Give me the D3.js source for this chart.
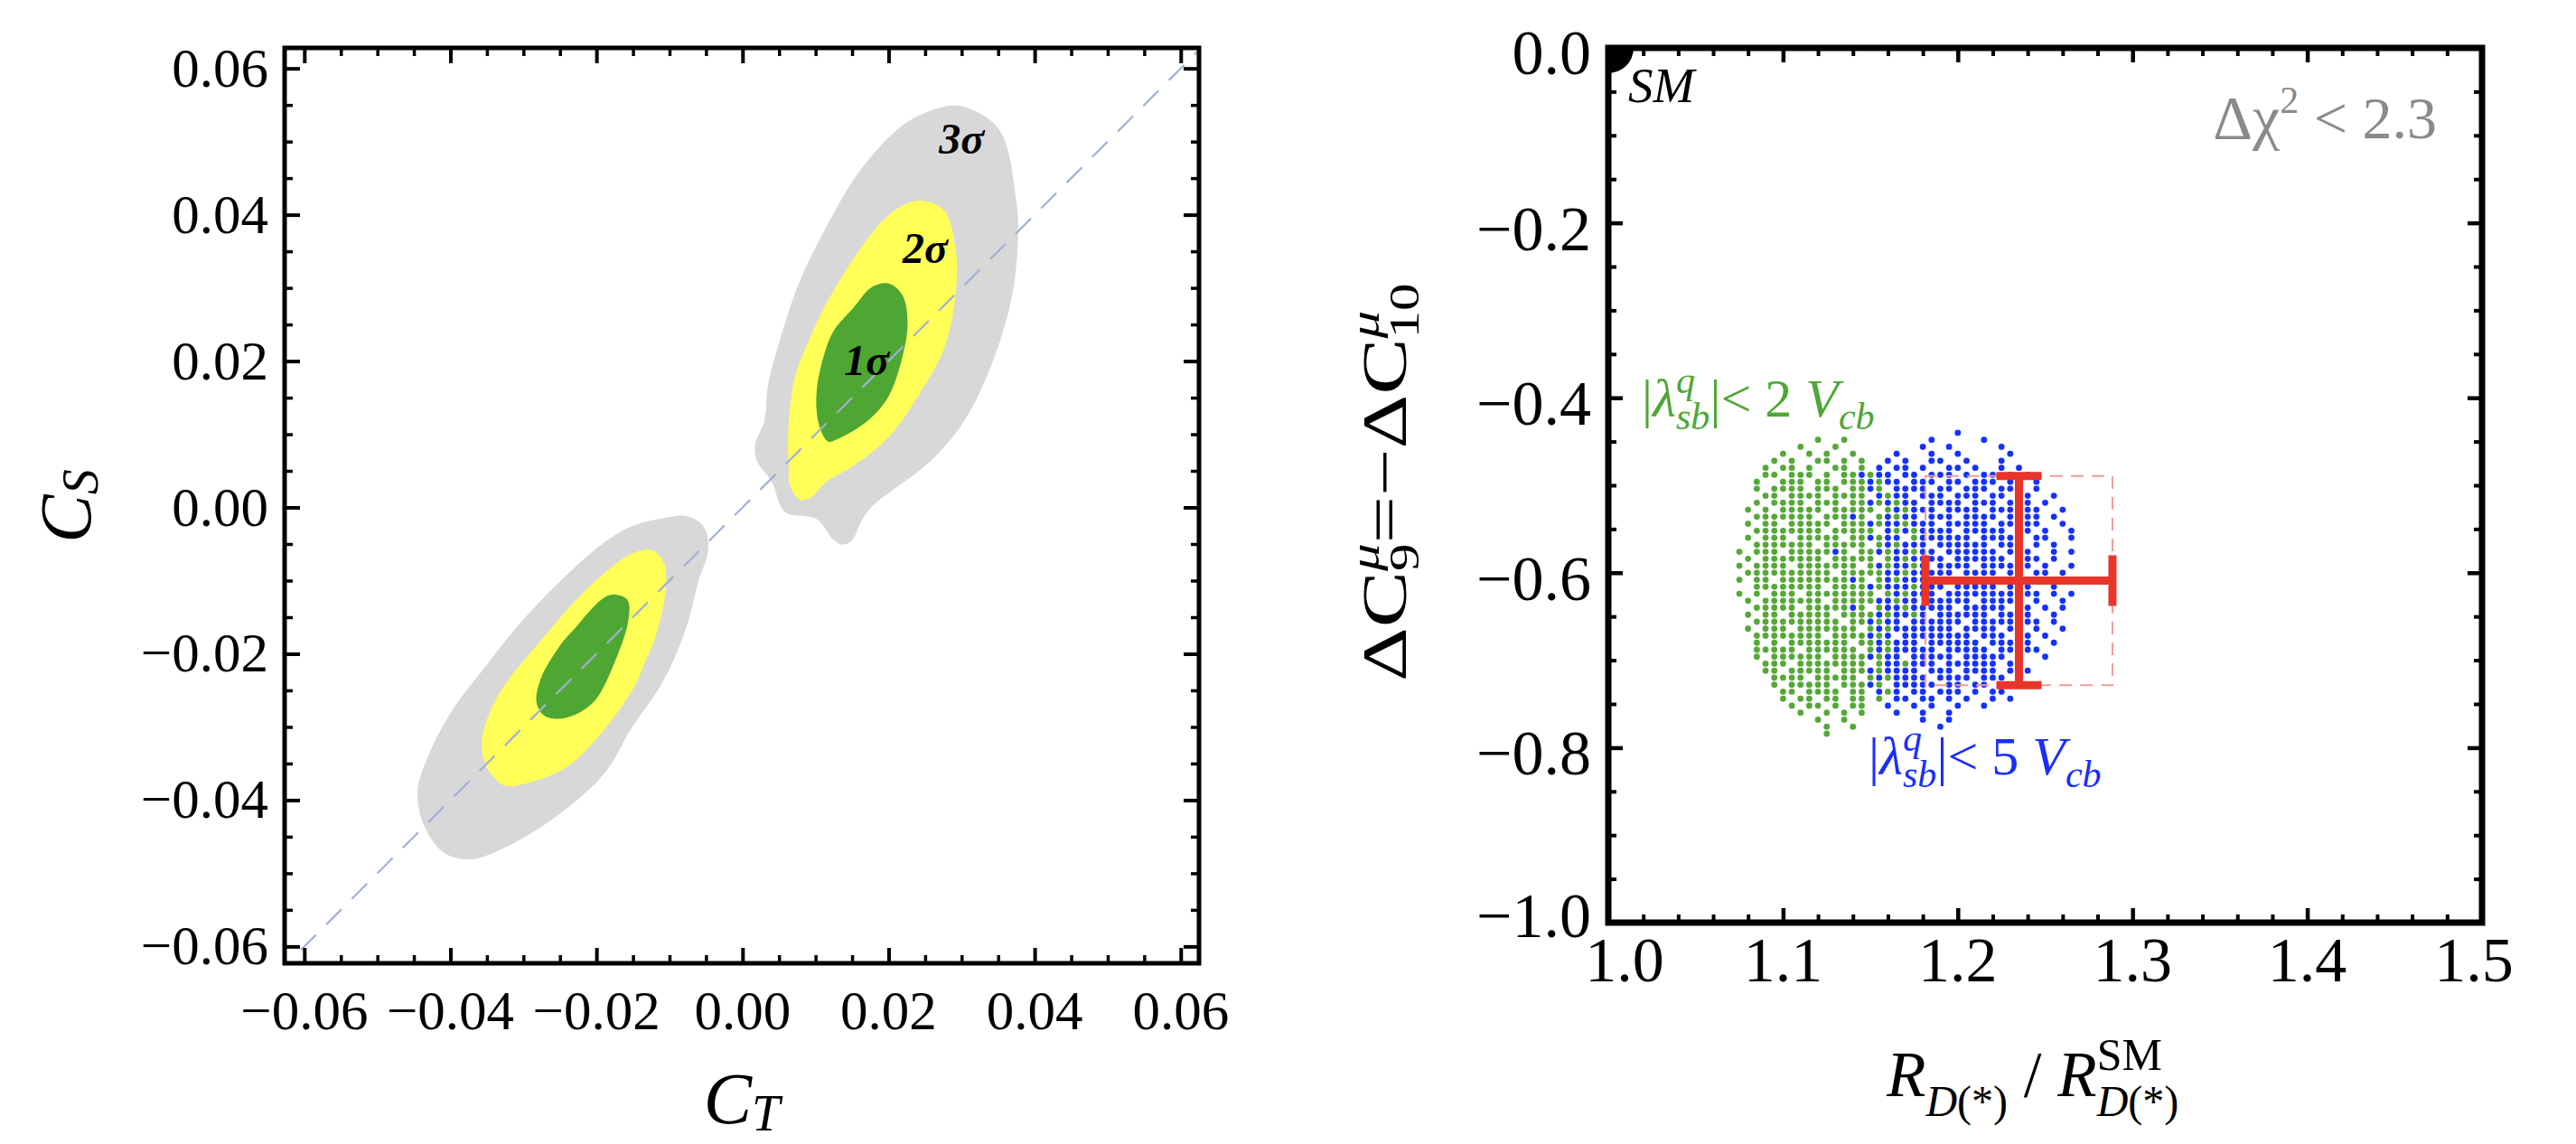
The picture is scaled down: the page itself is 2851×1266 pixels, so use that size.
<!DOCTYPE html>
<html>
<head>
<meta charset="utf-8">
<script src="https://cdn.jsdelivr.net/npm/d3@7/dist/d3.min.js"></script>
<style>
  body { margin: 0; background: #fff; }
  svg { display: block; }
  text { font-family: 'Liberation Serif', 'Times New Roman', serif; }
</style>
</head>
<body>
<script>
var width = 2851,
  height = 1266;

// ---- left panel data (C_T, C_S) ----
var leftXTicks = [-0.06, -0.04, -0.02, 0.00, 0.02, 0.04, 0.06];
var leftYTicks = [-0.06, -0.04, -0.02, 0.00, 0.02, 0.04, 0.06];

var gray3Upper = [[0.0297, 0.0549], [0.0351, 0.0517], [0.0375, 0.0417], [0.0377, 0.0362], [0.0368, 0.0284],
  [0.0341, 0.0195], [0.0304, 0.0119], [0.0257, 0.0063], [0.0177, 0.0001], [0.0162, -0.0020], [0.0150, -0.0045],
  [0.0136, -0.0051], [0.0122, -0.0042], [0.0115, -0.0031], [0.0100, -0.0015], [0.0058, -0.0006], [0.0040, 0.0035],
  [0.0020, 0.0063], [0.0017, 0.0085], [0.0030, 0.0119], [0.0035, 0.0168], [0.0053, 0.0235], [0.0077, 0.0306],
  [0.0115, 0.0384], [0.0162, 0.0462], [0.0219, 0.0522], [0.0257, 0.0542]];
var yellow2Upper = [[0.0247, 0.0419], [0.0276, 0.0406], [0.0292, 0.0351], [0.0292, 0.0295], [0.0276, 0.0217],
  [0.0247, 0.0163], [0.0200, 0.0096], [0.0152, 0.0057], [0.0115, 0.0035], [0.0091, 0.0012], [0.0079, 0.0010],
  [0.0065, 0.0030], [0.0063, 0.0057], [0.0063, 0.0112], [0.0072, 0.0179], [0.0096, 0.0240], [0.0115, 0.0279],
  [0.0152, 0.0340], [0.0195, 0.0395], [0.0224, 0.0415]];
var green1Upper = [[0.0200, 0.0306], [0.0219, 0.0290], [0.0226, 0.0251], [0.0219, 0.0206], [0.0200, 0.0152],
  [0.0172, 0.0119], [0.0129, 0.0093], [0.0117, 0.0090], [0.0105, 0.0112], [0.0101, 0.0152], [0.0108, 0.0195],
  [0.0124, 0.0240], [0.0152, 0.0273], [0.0177, 0.0301]];

var gray3Lower = [[-0.0232, -0.0084], [-0.0188, -0.0047], [-0.0150, -0.0025], [-0.0110, -0.0015], [-0.0075, -0.0012],
  [-0.0052, -0.0028], [-0.0047, -0.0058], [-0.0060, -0.0100], [-0.0079, -0.0170], [-0.0110, -0.0240],
  [-0.0151, -0.0300], [-0.0188, -0.0362], [-0.0244, -0.0414], [-0.0299, -0.0451], [-0.0354, -0.0477],
  [-0.0376, -0.0481], [-0.0409, -0.0472], [-0.0436, -0.0435], [-0.0445, -0.0388], [-0.0431, -0.0341],
  [-0.0398, -0.0278], [-0.0354, -0.0220], [-0.0299, -0.0152]];
var yellow2Lower = [[-0.0232, -0.0131], [-0.0188, -0.0089], [-0.0151, -0.0063], [-0.0125, -0.0058], [-0.0108, -0.0075],
  [-0.0105, -0.0110], [-0.0117, -0.0170], [-0.0135, -0.0215], [-0.0151, -0.0250], [-0.0199, -0.0315],
  [-0.0244, -0.0357], [-0.0299, -0.0378], [-0.0326, -0.0380], [-0.0349, -0.0357], [-0.0357, -0.0320],
  [-0.0343, -0.0273], [-0.0321, -0.0236], [-0.0282, -0.0189]];
var green1Lower = [[-0.0158, -0.0126], [-0.0156, -0.0152], [-0.0172, -0.0204], [-0.0205, -0.0267], [-0.0244, -0.0288],
  [-0.0271, -0.0285], [-0.0282, -0.0267], [-0.0277, -0.0236], [-0.0250, -0.0189], [-0.0232, -0.0168],
  [-0.0183, -0.0120]];

var diagonal = [[-0.0605, -0.0605], [0.0625, 0.0625]];
var sigmaLabels = [
  {name: '3σ', x: 0.0300, y: 0.0483},
  {name: '2σ', x: 0.0250, y: 0.0334},
  {name: '1σ', x: 0.0170, y: 0.0181}
];

// ---- right panel data (R_D ratio, ΔC9) ----
var rightXTicks = [1.0, 1.1, 1.2, 1.3, 1.4, 1.5];
var rightYTicks = [0.0, -0.2, -0.4, -0.6, -0.8, -1.0];
var smPoint = [1.0, 0.0];
var measX = [1.1815, 1.235, 1.2885];   // low, central, high
var measY = [-0.7285, -0.609, -0.4895];

// scatter points, one string per row (spaces only group columns by 5):
// column i sits at scatterX0 + i * scatterDX, 'g' = |λ|<2Vcb, 'b' = |λ|<5Vcb
var scatterX0 = 1.070, scatterDX = 0.005;
var scatterRows = [
  [-0.440, "..... ..... ..... ..... ..... .b"],
  [-0.448, "..... ..... g..g. ..... ...b. ....b"],
  [-0.456, "..... ...g. ..g.. ..... ..b.. b.... .b"],
  [-0.464, "..... .g..g .g..g ....b ...b. .b... ..b"],
  [-0.472, "..... g.g.. gg.g. g..b. b..bb ..b.. .b"],
  [-0.480, "....g .gg.g ..gg. g.b.b b.b.. bb.b. .b.b"],
  [-0.488, "....g g.ggg .g.gg bgbb. bb.bb b.b.b b.b.b"],
  [-0.496, "...g. .ggg. gg.gg gbgbb .bbb. bb.bb b.bb. b"],
  [-0.504, "...g. gggg. ggg.g gbg.b bbb.b b.bbb .bbb. b"],
  [-0.512, "....g g.ggg g.ggg g.bgb b.bbb .bbb. bb.bb ..b"],
  [-0.520, "...g. gggg. ggg.g gbgbg bb.bb bb.bb b.bbb .b"],
  [-0.528, "..g.g .gggg g.ggg gg.gb gbbb. bbbb. bbb.b b..b"],
  [-0.536, "...gg ggggg .gggb g.gbg bb.bb b.bbb b.bbb b.b"],
  [-0.544, "..g.g g.ggg gg.gg gbgbb gbbb. bbbbb .bb.b b..b"],
  [-0.552, "...gg ggggg g.ggg gg.bg bgbbb b.bbb bb.bb .b..b"],
  [-0.560, "..g.g gg.gg ggg.g gbgbb .gbbb bbb.b bbbb. bb..b"],
  [-0.568, "...gg ggggg .gggg g.gbg bbb.b bbbbb .bbb. b.b"],
  [-0.576, ".g.gg g.ggg ggbg. ggbgb bgbb. bbbbb b.bbb ..b.b"],
  [-0.584, "..g.g ggggg g.ggg gg.gb gbbbb .bbbb bb.bb b.b"],
  [-0.592, ".g.gg gg.gg ggggg .gbgb bgb.b bbb.b bbbbb .b..b"],
  [-0.600, "..ggg ggggg gg.gg gggbb gbbbb b.bbb b.bb. bb.b"],
  [-0.608, ".g.gg .gggg ggggb g.gbg bbbb. bbbbb bbb.b b.b.b"],
  [-0.616, "...gg ggggg g.ggg gbgbb bgbbb .bbbb b.bbb ..b"],
  [-0.624, ".g.g. ggg.g ggggg gg.gb gbbb. bbbbb bbb.b b.b.b"],
  [-0.632, "..g.g ggggg g.ggg ggbbg bb.bb bbb.b bbbb. b..b"],
  [-0.640, "...gg ggg.g ggggb g.gbb gbbbb b.bbb bb.bb .b.b"],
  [-0.648, "..g.g g.ggg gg.gg ggbgb bgb.b bbbbb .bbbb ..b"],
  [-0.656, "...gg ggggg ggg.g gbgbb .bbbb bb.bb bbb.b b.b"],
  [-0.664, "..g.g gg.gg ggggg .gbgb bbbbb b.bbb b.bb. b..b"],
  [-0.672, "...gg ggggg g.ggg gbgb. bbbbb bbb.b bb.bb .b"],
  [-0.680, "...g. g.ggg gggg. ggbgb bb.bb bbbb. bbb.b ..b"],
  [-0.688, "...gg ggg.g ggggg .gbgb bbbb. bbbbb .bb.b b"],
  [-0.696, "...g. ggggg g.ggg gbgbb .bbbb b.bbb bb.b. .b"],
  [-0.704, "....g gg.gg ggggg g.gbb gbbb. bbbbb b.bb"],
  [-0.712, "....g g.ggg gg.gg gbgbb bb.bb b.bbb b.b.b"],
  [-0.720, "..... gggg. ggggg .gbgb bbb.b bbb.b bb.b"],
  [-0.728, "..... g.ggg gg.gg gbg.b bbbb. bb.bb .b.b"],
  [-0.736, "..... .gg.g ggg.g g.bgb .bb.b bb.b. bb"],
  [-0.744, "..... .g.gg .gg.g g.g.b b.bb. b.b.. b.b"],
  [-0.752, "..... ..g.g g.g.g g..b. .b.b. .b..b"],
  [-0.760, "..... ...g. .g.g. g...b ..b.. b"],
  [-0.768, "..... ..... g..g. ..... ..b.. b"],
  [-0.776, "..... ..... .g..g ..... ....b"],
  [-0.784, "..... ..... .g"]
];

// ---- colours ----
var cGray = '#d8d8d8', cYellow = '#ffff58', cGreen = '#4ea733',
  cDotGreen = '#55a838', cDotBlue = '#1432ff', cRed = '#e8342a';

var svg = d3.select('body').append('svg')
  .attr('width', width)
  .attr('height', height);

svg.append('rect').attr('width', width).attr('height', height).attr('fill', '#fff');

// text made of pieces with sub/superscripts
var rich = function(sel, parts){
  var t = sel.append('text');
  var cur = 0, prev = null;
  parts.forEach(function(p){
    var s = p.shift || 0;
    var ts = t.append('tspan')
      .attr('dy', s - cur)
      .style('font-size', p.size + 'px')
      .style('font-style', p.it ? 'italic' : 'normal')
      .text(p.t);
    if (p.back && prev) ts.attr('dx', -prev.node().getComputedTextLength());
    cur = s;
    prev = ts;
  });
  return t;
};

var ticks = function(g, axisFn, scale, vals, len, tr, sw){
  g.append('g')
    .attr('transform', tr)
    .call(axisFn(scale).tickValues(vals).tickSize(-len).tickFormat(function(){ return ''; }))
    .call(function(a){
      a.select('.domain').remove();
      a.selectAll('text').remove();
      a.selectAll('line').attr('stroke', '#000').attr('stroke-width', sw);
    });
};

var notMultiple = function(step){
  return function(v){ return Math.abs(Math.round(v / step) * step - v) > 1e-6; };
};

var fmtNum = function(d, digits){
  var s = Math.abs(d).toFixed(digits);
  return (d < -1e-9 ? '\u2212' : '') + s;
};

// =================== LEFT PANEL ===================
var L = {left: 315, right: 1327, top: 53, bottom: 1066};
var xL = d3.scaleLinear().domain([-0.0627, 0.0625]).range([L.left, L.right]);
var yL = d3.scaleLinear().domain([-0.0623, 0.0628]).range([L.bottom, L.top]);

var blob = d3.line()
  .x(function(d){ return xL(d[0]); })
  .y(function(d){ return yL(d[1]); })
  .curve(d3.curveCatmullRomClosed.alpha(0.5));

var gL = svg.append('g');
[[gray3Upper, cGray], [gray3Lower, cGray], [yellow2Upper, cYellow], [yellow2Lower, cYellow],
 [green1Upper, cGreen], [green1Lower, cGreen]].forEach(function(c){
  gL.append('path').attr('d', blob(c[0])).attr('fill', c[1]).attr('stroke', 'none');
});

gL.append('path')
  .attr('d', d3.line().x(function(d){ return xL(d[0]); }).y(function(d){ return yL(d[1]); })(diagonal))
  .attr('stroke', '#9fb0d6')
  .attr('stroke-width', 2.2)
  .attr('stroke-dasharray', '24,16')
  .attr('fill', 'none');

gL.selectAll('.sigma')
  .data(sigmaLabels)
  .enter()
    .append('text')
    .attr('class', 'sigma')
    .attr('x', function(d){ return xL(d.x); })
    .attr('y', function(d){ return yL(d.y); })
    .attr('text-anchor', 'middle')
    .style('font-size', '48px')
    .style('font-weight', 'bold')
    .style('font-style', 'italic')
    .text(function(d){ return d.name; });

var leftMinor = d3.range(-0.055, 0.0551, 0.005).filter(notMultiple(0.02));
ticks(gL, d3.axisBottom, xL, leftXTicks, 17, 'translate(0,' + L.bottom + ')', 4);
ticks(gL, d3.axisBottom, xL, leftMinor, 9, 'translate(0,' + L.bottom + ')', 3.5);
ticks(gL, d3.axisTop, xL, leftXTicks, 17, 'translate(0,' + L.top + ')', 4);
ticks(gL, d3.axisTop, xL, leftMinor, 9, 'translate(0,' + L.top + ')', 3.5);
ticks(gL, d3.axisLeft, yL, leftYTicks, 17, 'translate(' + L.left + ',0)', 4);
ticks(gL, d3.axisLeft, yL, leftMinor, 9, 'translate(' + L.left + ',0)', 3.5);
ticks(gL, d3.axisRight, yL, leftYTicks, 17, 'translate(' + L.right + ',0)', 4);
ticks(gL, d3.axisRight, yL, leftMinor, 9, 'translate(' + L.right + ',0)', 3.5);

gL.append('rect')
  .attr('x', L.left).attr('y', L.top)
  .attr('width', L.right - L.left).attr('height', L.bottom - L.top)
  .attr('fill', 'none').attr('stroke', '#000').attr('stroke-width', 5);

gL.selectAll('.xlab')
  .data(leftXTicks)
  .enter()
    .append('text')
    .attr('class', 'xlab')
    .attr('x', function(d){ return xL(d); })
    .attr('y', 1139)
    .attr('text-anchor', 'middle')
    .style('font-size', '61px')
    .text(function(d){ return fmtNum(d, 2); });

gL.selectAll('.ylab')
  .data(leftYTicks)
  .enter()
    .append('text')
    .attr('class', 'ylab')
    .attr('x', 297)
    .attr('y', function(d){ return yL(d) + 20; })
    .attr('text-anchor', 'end')
    .style('font-size', '61px')
    .text(function(d){ return fmtNum(d, 2); });

rich(gL, [{t: 'C', size: 80, it: true}, {t: 'T', size: 56, it: true, shift: 8}])
  .attr('x', 821).attr('y', 1243).attr('text-anchor', 'middle');

rich(gL, [{t: 'C', size: 80, it: true}, {t: 'S', size: 56, it: true, shift: 8}])
  .attr('transform', 'translate(100,560) rotate(-90)').attr('text-anchor', 'middle');

// =================== RIGHT PANEL ===================
var R = {left: 1780, right: 2747, top: 53, bottom: 1021};
var xR = d3.scaleLinear().domain([1.0, 1.5]).range([R.left, R.right]);
var yR = d3.scaleLinear().domain([-1.0, 0.0]).range([R.bottom, R.top]);

var gR = svg.append('g');
svg.append('defs').append('clipPath').attr('id', 'clipR')
  .append('rect')
  .attr('x', R.left).attr('y', R.top)
  .attr('width', R.right - R.left).attr('height', R.bottom - R.top);

var dots = [];
scatterRows.forEach(function(row){
  row[1].replace(/ /g, '').split('').forEach(function(ch, i){
    if (ch === 'g' || ch === 'b') dots.push({x: scatterX0 + i * scatterDX, y: row[0], c: ch});
  });
});

gR.selectAll('.dot')
  .data(dots)
  .enter()
    .append('circle')
    .attr('class', 'dot')
    .attr('cx', function(d){ return xR(d.x); })
    .attr('cy', function(d){ return yR(d.y); })
    .attr('r', 3.4)
    .attr('fill', function(d){ return d.c === 'g' ? cDotGreen : cDotBlue; });

// measurement box and error bars
gR.append('rect')
  .attr('x', xR(measX[0])).attr('y', yR(measY[2]))
  .attr('width', xR(measX[2]) - xR(measX[0]))
  .attr('height', yR(measY[0]) - yR(measY[2]))
  .attr('fill', 'none')
  .attr('stroke', '#f29a9a')
  .attr('stroke-width', 2)
  .attr('stroke-dasharray', '14,9');

var eb = gR.append('g').attr('stroke', cRed).attr('stroke-width', 9).attr('fill', 'none');
eb.append('line')
  .attr('x1', xR(measX[0])).attr('x2', xR(measX[2]))
  .attr('y1', yR(measY[1])).attr('y2', yR(measY[1]));
eb.append('line')
  .attr('x1', xR(measX[1])).attr('x2', xR(measX[1]))
  .attr('y1', yR(measY[0])).attr('y2', yR(measY[2]));
[measX[0], measX[2]].forEach(function(v){
  eb.append('line')
    .attr('x1', xR(v)).attr('x2', xR(v))
    .attr('y1', yR(measY[1]) - 28).attr('y2', yR(measY[1]) + 28);
});
[measY[0], measY[2]].forEach(function(v){
  eb.append('line')
    .attr('x1', xR(measX[1]) - 25).attr('x2', xR(measX[1]) + 25)
    .attr('y1', yR(v)).attr('y2', yR(v));
});

gR.append('circle')
  .attr('cx', xR(smPoint[0])).attr('cy', yR(smPoint[1]))
  .attr('r', 28)
  .attr('fill', '#000')
  .attr('clip-path', 'url(#clipR)');

var rightXMinor = d3.range(1.02, 1.5, 0.02).filter(notMultiple(0.1));
var rightYMinor = d3.range(-0.05, -1.0, -0.05).filter(notMultiple(0.2));
ticks(gR, d3.axisBottom, xR, rightXTicks, 16, 'translate(0,' + R.bottom + ')', 4.5);
ticks(gR, d3.axisBottom, xR, rightXMinor, 9, 'translate(0,' + R.bottom + ')', 4);
ticks(gR, d3.axisTop, xR, rightXTicks, 16, 'translate(0,' + R.top + ')', 4.5);
ticks(gR, d3.axisTop, xR, rightXMinor, 9, 'translate(0,' + R.top + ')', 4);
ticks(gR, d3.axisLeft, yR, rightYTicks, 16, 'translate(' + R.left + ',0)', 4.5);
ticks(gR, d3.axisLeft, yR, rightYMinor, 9, 'translate(' + R.left + ',0)', 4);
ticks(gR, d3.axisRight, yR, rightYTicks, 16, 'translate(' + R.right + ',0)', 4.5);
ticks(gR, d3.axisRight, yR, rightYMinor, 9, 'translate(' + R.right + ',0)', 4);

gR.append('rect')
  .attr('x', R.left).attr('y', R.top)
  .attr('width', R.right - R.left).attr('height', R.bottom - R.top)
  .attr('fill', 'none').attr('stroke', '#000').attr('stroke-width', 7);

var rightXLabelDx = [18, 0, 0, 0, 0, -9];
gR.selectAll('.xlab')
  .data(rightXTicks)
  .enter()
    .append('text')
    .attr('class', 'xlab')
    .attr('x', function(d, i){ return xR(d) + rightXLabelDx[i]; })
    .attr('y', 1086)
    .attr('text-anchor', 'middle')
    .style('font-size', '70px')
    .text(function(d){ return fmtNum(d, 1); });

var rightYLabelDy = [29, 30, 30, 30, 30, 16];
gR.selectAll('.ylab')
  .data(rightYTicks)
  .enter()
    .append('text')
    .attr('class', 'ylab')
    .attr('x', 1761)
    .attr('y', function(d, i){ return yR(d) + rightYLabelDy[i]; })
    .attr('text-anchor', 'end')
    .style('font-size', '70px')
    .text(function(d){ return fmtNum(d, 1); });

gR.append('text')
  .attr('x', 1802).attr('y', 113)
  .style('font-size', '55px').style('font-style', 'italic')
  .text('SM');

rich(gR, [{t: 'Δχ', size: 68}, {t: '2', size: 42, shift: -28}, {t: '\u00a0<\u00a02.3', size: 66}])
  .attr('x', 2697).attr('y', 153).attr('text-anchor', 'end').attr('fill', '#8a8a8a');

var lambdaLabel = function(n){
  return [
    {t: '|', size: 60}, {t: 'λ', size: 60, it: true},
    {t: 'q', size: 42, it: true, shift: -26}, {t: 'sb', size: 42, it: true, shift: 14, back: true},
    {t: '|<\u00a0' + n + '\u00a0', size: 60}, {t: 'V', size: 60, it: true},
    {t: 'cb', size: 42, it: true, shift: 14}
  ];
};
rich(gR, lambdaLabel('2')).attr('x', 1817).attr('y', 461).attr('fill', '#4fa736');
rich(gR, lambdaLabel('5')).attr('x', 2068).attr('y', 857).attr('fill', '#1a2dff');

rich(gR, [
  {t: 'R', size: 71, it: true}, {t: 'D', size: 48, it: true, shift: 22}, {t: '(*)', size: 48, shift: 22},
  {t: '\u00a0/\u00a0', size: 71}, {t: 'R', size: 71, it: true},
  {t: 'SM', size: 50, shift: -29}, {t: 'D', size: 48, it: true, shift: 22, back: true}, {t: '(*)', size: 48, shift: 22}
]).attr('x', 2088).attr('y', 1213);

// the vertical title is drawn a little stretched along its length, as in the original
rich(gR, [
  {t: 'ΔC', size: 70}, {t: 'μ', size: 46, it: true, shift: -30}, {t: '9', size: 46, shift: 14, back: true},
  {t: '=\u2212ΔC', size: 70}, {t: 'μ', size: 46, it: true, shift: -30}, {t: '10', size: 46, shift: 14, back: true}
]).attr('transform', 'translate(1556,754) rotate(-90) scale(1.33,1)');
</script>
</body>
</html>
